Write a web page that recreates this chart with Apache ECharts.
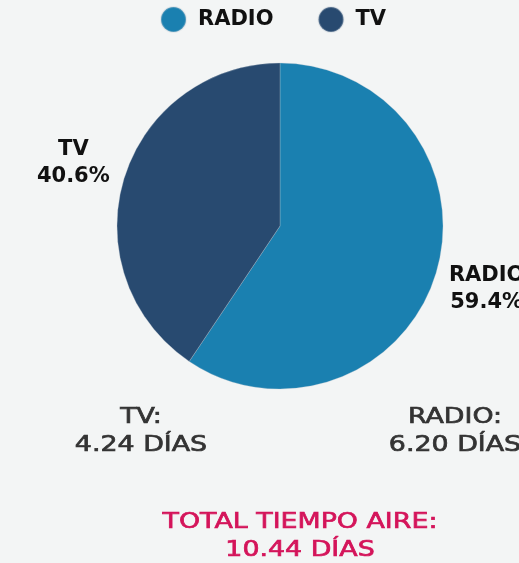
<!DOCTYPE html>
<html>
<head>
<meta charset="utf-8">
<script src="https://cdn.jsdelivr.net/npm/echarts@6/dist/echarts.min.js"></script>
<style>
  html, body { margin: 0; padding: 0; background: #f3f5f5; }
  #chart { width: 519px; height: 563px; }
</style>
</head>
<body>
<div id="chart"></div>
<script>
// Airtime share by medium
const categories = ['RADIO', 'TV'];
const shares = [59.4, 40.6];          // percent of total
const days = ['6.20', '4.24'];        // days on air per medium
const totalDays = '10.44';
const colors = ['#1a80b0', '#284a70'];

const FONT = '"DejaVu Sans", sans-serif';
const WIDE = 1.22;                    // horizontal stretch for the caption texts

const pieData = categories.map((name, i) => ({
  name: name,
  value: shares[i],
  itemStyle: { color: colors[i] }
}));

function caption(x, y, text, fill) {
  return {
    type: 'text',
    x: x, y: y,
    scaleX: WIDE, scaleY: 1,
    originX: 0, originY: 0,
    silent: true,
    style: {
      x: 0, y: 0, text: text, fill: fill,
      stroke: fill, lineWidth: 0.7,
      font: '22px ' + FONT,
      align: 'center', verticalAlign: 'top', lineHeight: 28
    }
  };
}

const chart = echarts.init(document.getElementById('chart'), null, { renderer: 'canvas' });

chart.setOption({
  backgroundColor: '#f3f5f5',
  animation: false,
  legend: {
    data: categories,
    top: 1,
    left: 155,
    icon: 'circle',
    itemWidth: 25,
    itemHeight: 25,
    itemGap: 44,
    selectedMode: false,
    textStyle: {
      fontFamily: FONT, fontWeight: 'bold', fontSize: 21, color: '#111',
      padding: [0, 0, 0, 7]
    }
  },
  series: [
    {
      type: 'pie',
      center: [280, 226],
      radius: [0, 163],
      startAngle: 90,
      clockwise: true,
      silent: true,
      itemStyle: { borderColor: 'rgba(190,200,210,0.3)', borderWidth: 1 },
      label: { show: false },
      labelLine: { show: false },
      data: pieData
    },
    {
      // transparent ring that carries the percentage labels
      type: 'pie',
      center: [280, 226],
      radius: [195, 231],
      startAngle: 90,
      clockwise: true,
      silent: true,
      itemStyle: { color: 'rgba(0,0,0,0)' },
      label: {
        show: true,
        position: 'inside',
        fontFamily: FONT,
        fontWeight: 'bold',
        fontSize: 21,
        lineHeight: 27,
        color: '#111',
        align: 'center',
        formatter: p => p.name + '\n' + p.value.toFixed(1) + '%'
      },
      labelLine: { show: false },
      data: categories.map((name, i) => ({ name: name, value: shares[i] }))
    }
  ],
  graphic: [
    caption(141, 403, categories[1] + ':\n' + days[1] + ' DÍAS', '#333'),
    caption(455, 403, categories[0] + ':\n' + days[0] + ' DÍAS', '#333'),
    caption(300, 508, 'TOTAL TIEMPO AIRE:\n' + totalDays + ' DÍAS', '#d4145a')
  ]
});
</script>
</body>
</html>
